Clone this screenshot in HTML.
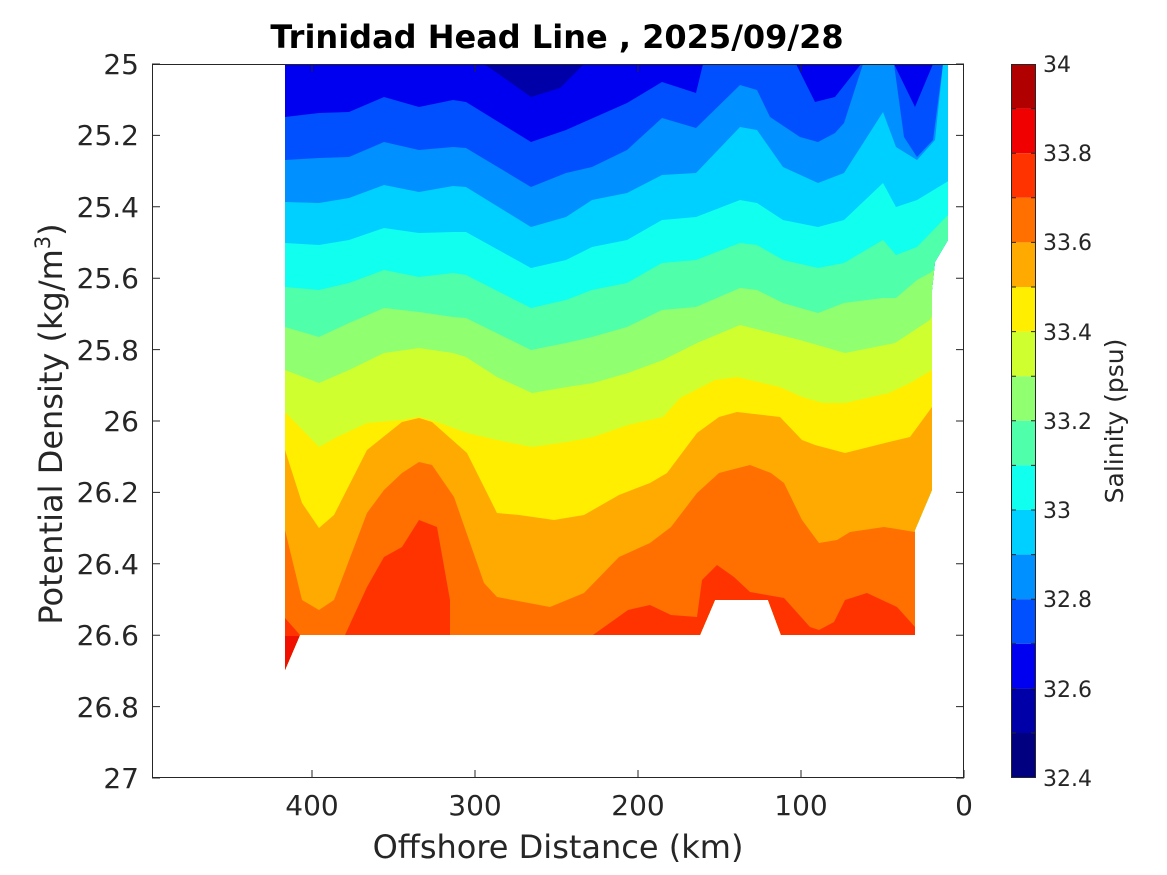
<!DOCTYPE html>
<html><head><meta charset="utf-8"><style>
html,body{margin:0;padding:0;background:#fff;}
svg{display:block;font-family:"DejaVu Sans","Liberation Sans",sans-serif;}
</style></head><body>
<svg width="1167" height="875" viewBox="0 0 1167 875" xmlns="http://www.w3.org/2000/svg">
<defs>
<clipPath id="d"><polygon points="285,64 948,64 948,240 935,262 932,290 932,490 915,530 915,635 781,635 768,600 715,600 700,635 300,635 285,670"/></clipPath>
</defs>
<g clip-path="url(#d)">
<rect x="280" y="60" width="700" height="620" fill="#0000f0"/>
<polygon fill="#0000a8" points="484,64 510,82 531,97 560,88 584,64"/>
<polygon fill="#0050ff" points="285,117 319,113 349,112 384,97 419,107 453,100 466,102 531,142 566,130 627,103 662,82 696,93 703,64 796,64 815,102 835,97 861,64 894,64 915,107 933,64 960,64 960,700 280,700"/>
<polygon fill="#0090ff" points="285,160 319,158 349,157 384,142 419,150 453,147 466,148 531,187 566,173 592,167 627,150 662,118 696,128 740,85 757,90 770,117 800,137 818,142 835,133 844,123 863,64 894,64 904,137 917,157 933,140 943,64 960,64 960,700 280,700"/>
<polygon fill="#00d0ff" points="285,202 319,203 349,198 384,185 419,192 453,186 466,187 531,227 566,217 592,200 627,193 662,175 696,173 740,127 757,130 783,167 818,183 844,173 883,112 896,147 917,160 935,140 943,64 960,64 960,700 280,700"/>
<polygon fill="#10ffee" points="285,243 319,245 349,240 384,228 419,233 453,232 466,232 531,268 566,260 592,247 627,240 662,220 696,217 740,200 757,203 783,220 818,227 844,220 883,183 896,207 917,200 950,180 960,180 960,700 280,700"/>
<polygon fill="#50ffaa" points="285,287 319,290 349,283 384,270 419,277 453,273 466,275 531,308 566,300 592,290 627,283 662,263 696,260 740,243 757,245 783,260 818,268 844,263 883,240 896,255 917,247 950,213 960,213 960,700 280,700"/>
<polygon fill="#90ff70" points="285,327 319,337 349,323 384,308 419,312 453,317 466,318 531,350 566,343 592,337 627,327 662,310 696,307 740,288 757,290 783,303 818,313 844,303 883,298 896,298 917,280 930,273 950,257 960,257 960,700 280,700"/>
<polygon fill="#d0ff30" points="285,370 319,383 349,370 384,353 419,348 453,353 466,357 497,377 532,393 567,387 593,383 628,373 663,360 697,343 740,325 780,335 800,340 845,353 895,343 930,320 950,280 960,280 960,700 280,700"/>
<polygon fill="#ffee00" points="285,412 319,447 337,437 367,423 402,420 419,417 437,422 467,433 497,440 532,447 567,442 593,437 628,425 663,417 680,398 715,380 737,377 780,387 802,397 823,403 845,403 889,393 910,383 932,370 960,360 960,700 280,700"/>
<polygon fill="#ffaa00" points="285,450 302,503 319,528 334,515 367,450 402,422 419,418 432,422 467,453 497,513 519,515 554,520 584,515 619,495 650,483 667,473 697,433 719,417 737,412 780,417 802,440 815,445 845,453 889,442 910,437 932,407 960,400 960,700 280,700"/>
<polygon fill="#ff7000" points="285,530 302,600 319,610 334,600 367,513 384,490 402,473 419,462 432,465 454,497 484,583 497,597 550,607 584,593 619,557 650,543 671,527 697,493 719,473 750,465 771,473 784,483 802,520 819,543 837,540 850,532 884,527 915,532 960,532 960,700 280,700"/>
<polygon fill="#ff3300" points="280,618 285,618 300,635 285,670 280,680"/>
<polygon fill="#ff3300" points="345,635 367,587 384,557 402,547 419,520 437,527 450,600 450,635"/>
<polygon fill="#ff3300" points="593,635 628,610 650,605 671,615 697,617 702,580 717,565 734,577 750,592 784,598 810,627 819,630 834,622 845,600 867,593 897,607 915,627 915,640 593,640"/>
<polygon fill="#f01000" points="280,636 300,636 285,672 280,672"/>
</g>
<g stroke="#262626" stroke-width="1" fill="none">
<rect x="152.5" y="64.5" width="811" height="713"/>
<path d="M152 64h8M152 135.4h8M152 206.8h8M152 278.2h8M152 349.6h8M152 421h8M152 492.4h8M152 563.8h8M152 635.2h8M152 706.6h8M152 778h8
M964 64h-8M964 135.4h-8M964 206.8h-8M964 278.2h-8M964 349.6h-8M964 421h-8M964 492.4h-8M964 563.8h-8M964 635.2h-8M964 706.6h-8M964 778h-8
M312 778v-8M475 778v-8M638 778v-8M801 778v-8M964 778v-8M312 64v8M475 64v8M638 64v8M801 64v8"/>
</g>
<g fill="#262626" font-size="28" text-anchor="end">
<text x="139" y="74">25</text><text x="139" y="145">25.2</text><text x="139" y="217">25.4</text><text x="139" y="288">25.6</text><text x="139" y="360">25.8</text><text x="139" y="431">26</text><text x="139" y="502">26.2</text><text x="139" y="574">26.4</text><text x="139" y="645">26.6</text><text x="139" y="717">26.8</text><text x="139" y="788">27</text>
</g>
<g fill="#262626" font-size="28" text-anchor="middle">
<text x="312" y="815">400</text><text x="475" y="815">300</text><text x="638" y="815">200</text><text x="801" y="815">100</text><text x="964" y="815">0</text>
<text x="558" y="858" font-size="32">Offshore Distance (km)</text>
<text x="557" y="48" font-size="32" font-weight="bold" fill="#000">Trinidad Head Line , 2025/09/28</text>
</g>
<text transform="translate(62,424) rotate(-90)" text-anchor="middle" font-size="32" fill="#262626">Potential Density (kg/m<tspan font-size="21" dy="-12">3</tspan><tspan dy="12">)</tspan></text>
<g>
<rect x="1011" y="64" width="25" height="44.6" fill="#b00000"/>
<rect x="1011" y="108.6" width="25" height="44.6" fill="#f00000"/>
<rect x="1011" y="153.2" width="25" height="44.6" fill="#ff3300"/>
<rect x="1011" y="197.8" width="25" height="44.6" fill="#ff7000"/>
<rect x="1011" y="242.4" width="25" height="44.6" fill="#ffaa00"/>
<rect x="1011" y="287" width="25" height="44.6" fill="#ffee00"/>
<rect x="1011" y="331.6" width="25" height="44.6" fill="#d0ff30"/>
<rect x="1011" y="376.2" width="25" height="44.6" fill="#90ff70"/>
<rect x="1011" y="420.8" width="25" height="44.6" fill="#50ffaa"/>
<rect x="1011" y="465.4" width="25" height="44.6" fill="#10ffee"/>
<rect x="1011" y="510" width="25" height="44.6" fill="#00d0ff"/>
<rect x="1011" y="554.6" width="25" height="44.6" fill="#0090ff"/>
<rect x="1011" y="599.2" width="25" height="44.6" fill="#0050ff"/>
<rect x="1011" y="643.8" width="25" height="44.6" fill="#0000f0"/>
<rect x="1011" y="688.4" width="25" height="44.6" fill="#0000a8"/>
<rect x="1011" y="733" width="25" height="45" fill="#000080"/>
<rect x="1011.5" y="64.5" width="24" height="713" fill="none" stroke="#262626"/>
<path d="M1011 108.6h5M1011 153.2h5M1011 197.8h5M1011 242.4h5M1011 287h5M1011 331.6h5M1011 376.2h5M1011 420.8h5M1011 465.4h5M1011 510h5M1011 554.6h5M1011 599.2h5M1011 643.8h5M1011 688.4h5M1011 733h5M1036 108.6h-5M1036 153.2h-5M1036 197.8h-5M1036 242.4h-5M1036 287h-5M1036 331.6h-5M1036 376.2h-5M1036 420.8h-5M1036 465.4h-5M1036 510h-5M1036 554.6h-5M1036 599.2h-5M1036 643.8h-5M1036 688.4h-5M1036 733h-5" stroke="#262626"/>
</g>
<g fill="#262626" font-size="22">
<text x="1043" y="72">34</text><text x="1043" y="161">33.8</text><text x="1043" y="250">33.6</text><text x="1043" y="340">33.4</text><text x="1043" y="429">33.2</text><text x="1043" y="518">33</text><text x="1043" y="607">32.8</text><text x="1043" y="697">32.6</text><text x="1043" y="786">32.4</text>
</g>
<text transform="translate(1123,421) rotate(-90)" text-anchor="middle" font-size="25" fill="#262626">Salinity (psu)</text>
</svg>
</body></html>
